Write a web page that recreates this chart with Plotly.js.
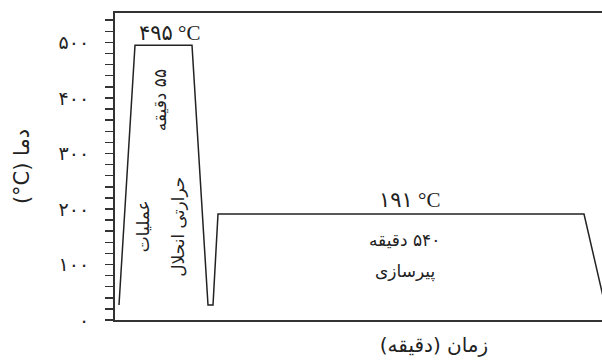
<!DOCTYPE html>
<html>
<head>
<meta charset="utf-8">
<script src="https://cdn.plot.ly/plotly-3.0.1.min.js"></script>
<style>
html, body { margin: 0; padding: 0; overflow: hidden; background: #fff; }
#myDiv { width: 753px; height: 362px; }
</style>
</head>
<body>
<div id="myDiv"></div>
<script>
// پروفیل دمایی عملیات حرارتی (محور زمان بدون مقیاس)
const time  = [4, 20, 77, 93, 98, 103, 469, 490]
const temps = [27, 495, 495, 27, 27, 191, 191, 27]

// برچسب های محور دما
const tickVals  = [0, 100, 200, 300, 400, 500]
const tickTexts = ['۰', '۱۰۰', '۲۰۰', '۳۰۰', '۴۰۰', '۵۰۰']

const fa  = 'DejaVu Sans, sans-serif'
const deg = '<span style="font-family:Liberation Serif"> °C</span>'
const RLM = '\u200F'

const profile = {
	x: time, y: temps, type: 'scatter', mode: 'lines',
	line: {color: '#222', width: 1.5}, hoverinfo: 'skip'
}

const layout = {
	width: 753, height: 362,
	margin: {l: 115, r: 0, t: 13, b: 42},
	showlegend: false,
	paper_bgcolor: '#fff', plot_bgcolor: '#fff',
	xaxis: {
		range: [0, 638], showline: true, mirror: true, linecolor: '#333', linewidth: 2,
		showgrid: false, zeroline: false, showticklabels: false, ticks: '',
		title: {text: 'زمان (دقیقه)', font: {family: fa, size: 20, color: '#222'}, standoff: 17}
	},
	yaxis: {
		range: [0, 553], showline: true, linecolor: '#333', linewidth: 2,
		showgrid: false, zeroline: false,
		tickvals: tickVals, ticktext: tickTexts,
		ticks: 'outside', ticklen: 8, tickwidth: 1.5, tickcolor: '#333',
		ticklabelstandoff: 12,
		tickfont: {family: fa, size: 19, color: '#222'},
		minor: {dtick: 20, tick0: 0, ticks: 'outside', ticklen: 8, tickwidth: 1.5, tickcolor: '#333'},
		title: {text: '(°C) دما', font: {family: fa, size: 21, color: '#222'}, standoff: 23}
	},
	annotations: [
		{x: 55, y: 517, text: '۴۹۵' + deg, showarrow: false, font: {family: fa, size: 21, color: '#222'}},
		{x: 45, y: 396, text: RLM + '۵۵ دقیقه', textangle: -90, showarrow: false, font: {family: fa, size: 17, color: '#222'}},
		{x: 28, y: 169, text: 'عملیات', textangle: -90, showarrow: false, font: {family: fa, size: 17, color: '#222'}},
		{x: 63, y: 168, text: 'حرارتی انحلال', textangle: -90, showarrow: false, font: {family: fa, size: 17, color: '#222'}},
		{x: 295, y: 216, text: '۱۹۱' + deg, showarrow: false, font: {family: fa, size: 21, color: '#222'}},
		{x: 289, y: 144, text: RLM + '۵۴۰ دقیقه', showarrow: false, font: {family: fa, size: 17, color: '#222'}},
		{x: 290, y: 88, text: 'پیرسازی', showarrow: false, font: {family: fa, size: 17, color: '#222'}}
	]
}

const config = {displayModeBar: false, staticPlot: true}

Plotly.newPlot('myDiv', [profile], layout, config)
</script>
</body>
</html>
